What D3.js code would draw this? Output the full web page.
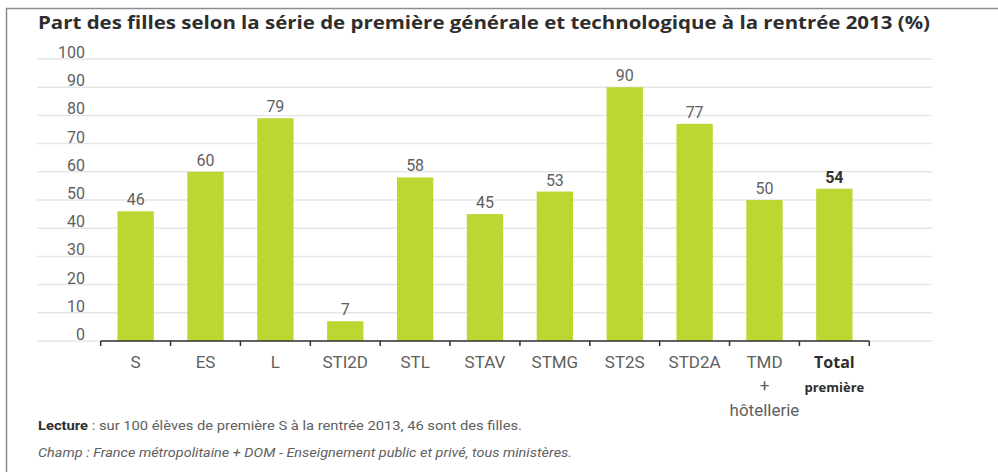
<!DOCTYPE html>
<html>
<head>
<meta charset="utf-8">
<script src="https://cdn.jsdelivr.net/npm/d3@7"></script>
<style>
  body { margin: 0; background: #fff; }
  svg { display: block; }
</style>
</head>
<body>
<div id="chart"></div>
<script>
"use strict";

// data
var categories = ["S", "ES", "L", "STI2D", "STL", "STAV", "STMG", "ST2S", "STD2A", "TMD", "Total"];
var values = [46, 60, 79, 7, 58, 45, 53, 90, 77, 50, 54];
var yTicks = [0, 10, 20, 30, 40, 50, 60, 70, 80, 90, 100];

var W = 998, H = 472;
var font = "Roboto, 'Liberation Sans', sans-serif";

var svg = d3.select("#chart").append("svg")
    .attr("width", W)
    .attr("height", H);

// frame
svg.append("path")
    .attr("d", "M6.5," + H + " V8.5 H" + W)
    .attr("fill", "none")
    .attr("stroke", "#8c8c8c")
    .attr("stroke-width", 1.5);

// title
svg.append("text")
    .attr("x", 38)
    .attr("y", 29)
    .attr("textLength", 892)
    .attr("lengthAdjust", "spacingAndGlyphs")
    .style("font-family", "'Open Sans', sans-serif")
    .style("font-weight", "bold")
    .style("font-size", "18px")
    .style("fill", "#2e2e2e")
    .text("Part des filles selon la série de première générale et technologique à la rentrée 2013 (%)");

// scales
var x = d3.scaleBand()
    .domain(categories)
    .range([100.7, 869.3])
    .paddingInner(0.48)
    .paddingOuter(0.24);

var y = d3.scaleLinear()
    .domain([0, 100])
    .range([341, 59]);

// gridlines
svg.append("g")
    .selectAll("line")
    .data(yTicks)
    .enter().append("line")
    .attr("x1", 37)
    .attr("x2", 932)
    .attr("y1", function (d) { return y(d); })
    .attr("y2", function (d) { return y(d); })
    .attr("stroke", "#e6e6e6")
    .attr("stroke-width", 1.5);

// y labels
svg.append("g")
    .selectAll("text")
    .data(yTicks)
    .enter().append("text")
    .attr("x", 85)
    .attr("y", function (d) { return y(d) - 1; })
    .attr("text-anchor", "end")
    .style("font-family", font)
    .style("font-size", "16px")
    .style("fill", "#606060")
    .text(function (d) { return d; });

// bars
svg.append("g")
    .selectAll("rect")
    .data(values)
    .enter().append("rect")
    .attr("x", function (d, i) { return x(categories[i]); })
    .attr("width", x.bandwidth())
    .attr("y", function (d) { return y(d); })
    .attr("height", function (d) { return y(0) - y(d); })
    .attr("fill", "#bdd631");

// value labels
svg.append("g")
    .selectAll("text")
    .data(values)
    .enter().append("text")
    .attr("x", function (d, i) { return x(categories[i]) + x.bandwidth() / 2; })
    .attr("y", function (d) { return y(d) - 6; })
    .attr("text-anchor", "middle")
    .style("font-family", font)
    .style("font-size", "16px")
    .style("font-weight", function (d, i) { return i === categories.length - 1 ? "bold" : "normal"; })
    .style("fill", function (d, i) { return i === categories.length - 1 ? "#333" : "#606060"; })
    .text(function (d) { return d; });

// x axis line and ticks at band boundaries
var step = x.step();
var bounds = categories.map(function (c) { return x(c) - step * x.paddingInner() / 2; });
bounds.push(bounds[bounds.length - 1] + step);

svg.append("line")
    .attr("x1", bounds[0])
    .attr("x2", bounds[bounds.length - 1])
    .attr("y1", y(0))
    .attr("y2", y(0))
    .attr("stroke", "#333")
    .attr("stroke-width", 1.5);

svg.append("g")
    .selectAll("line")
    .data(bounds)
    .enter().append("line")
    .attr("x1", function (d) { return d; })
    .attr("x2", function (d) { return d; })
    .attr("y1", y(0))
    .attr("y2", y(0) + 5)
    .attr("stroke", "#333")
    .attr("stroke-width", 1.5);

// category labels
var catLines = {
    "TMD": ["TMD", "+", "hôtellerie"],
    "Total": ["Total", "première"]
};
var lineY = [368, 391, 416];

categories.forEach(function (c) {
    var cx = x(c) + x.bandwidth() / 2;
    var lines = catLines[c] || [c];
    lines.forEach(function (t, j) {
        var isTotal = c === "Total";
        svg.append("text")
            .attr("x", cx)
            .attr("y", isTotal && j === 1 ? 392 : lineY[j])
            .attr("text-anchor", "middle")
            .style("font-family", isTotal ? "'Open Sans', sans-serif" : font)
            .style("font-weight", isTotal ? "bold" : "normal")
            .style("font-size", isTotal ? (j === 0 ? "16px" : "13px") : "17px")
            .style("fill", isTotal ? "#2e2e2e" : "#606060")
            .text(t);
    });
});

// footnotes
var note1 = svg.append("text")
    .attr("x", 38)
    .attr("y", 430)
    .attr("textLength", 484)
    .attr("lengthAdjust", "spacingAndGlyphs")
    .style("font-family", font)
    .style("font-size", "13px")
    .style("fill", "#606060");
note1.append("tspan")
    .style("font-weight", "bold")
    .style("fill", "#2e2e2e")
    .text("Lecture");
note1.append("tspan")
    .text(" : sur 100 élèves de première S à la rentrée 2013, 46 sont des filles.");

svg.append("text")
    .attr("x", 38)
    .attr("y", 457)
    .attr("textLength", 534)
    .attr("lengthAdjust", "spacingAndGlyphs")
    .style("font-family", font)
    .style("font-size", "13px")
    .style("font-style", "italic")
    .style("fill", "#606060")
    .text("Champ : France métropolitaine + DOM - Enseignement public et privé, tous ministères.");
</script>
</body>
</html>
